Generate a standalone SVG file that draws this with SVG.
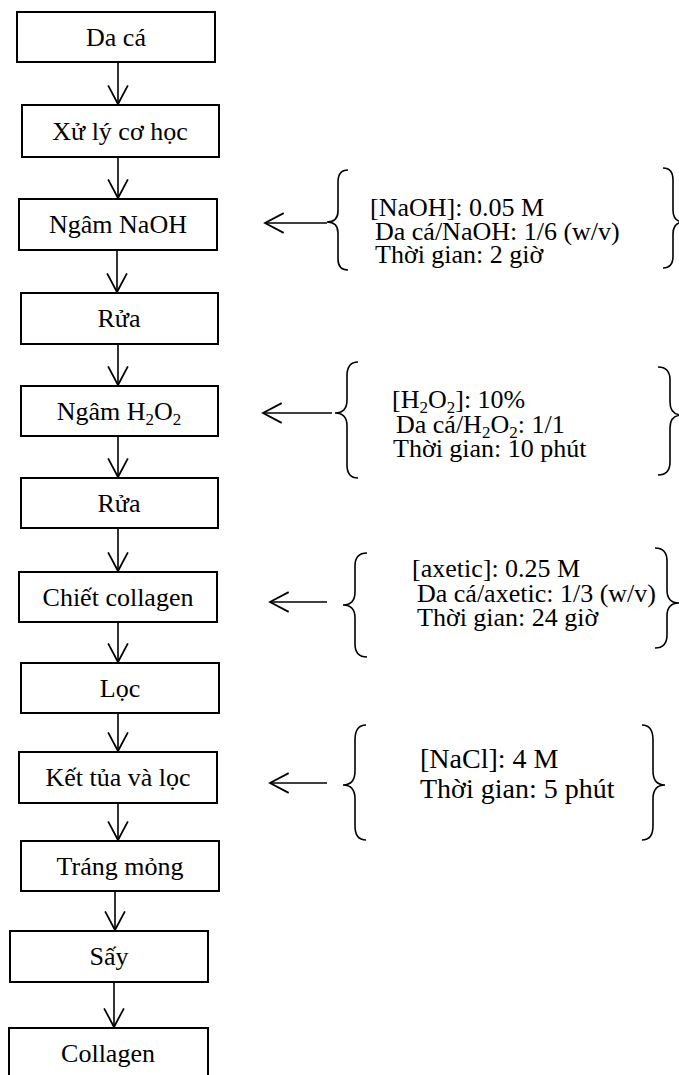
<svg xmlns="http://www.w3.org/2000/svg" width="679" height="1075" viewBox="0 0 679 1075">
<style>
.box{fill:#fff;stroke:#000;stroke-width:2}
.bt{font-family:"Liberation Serif","Times New Roman",serif;font-size:26px;text-anchor:middle;fill:#000}
.pt{font-family:"Liberation Serif","Times New Roman",serif;font-size:26px;fill:#000}
.pt2{font-family:"Liberation Serif","Times New Roman",serif;font-size:28px;fill:#000}
.ar{stroke:#000;stroke-width:1.6;fill:none}
.br{stroke:#000;stroke-width:1.6;fill:none}
</style>
<defs>
<marker id="v" markerUnits="userSpaceOnUse" markerWidth="22" markerHeight="22" viewBox="0 0 20 20" refX="18" refY="10" orient="auto">
<path d="M1,1 L18,10 L1,19" fill="none" stroke="#000" stroke-width="1.6"/>
</marker>
</defs>
<g id="connectors">
<line class="ar" x1="118" y1="62" x2="118" y2="104" marker-end="url(#v)"/>
<line class="ar" x1="118" y1="157" x2="118" y2="198" marker-end="url(#v)"/>
<line class="ar" x1="117" y1="250" x2="117" y2="292" marker-end="url(#v)"/>
<line class="ar" x1="118" y1="344" x2="118" y2="385" marker-end="url(#v)"/>
<line class="ar" x1="118" y1="436" x2="118" y2="477" marker-end="url(#v)"/>
<line class="ar" x1="118" y1="528" x2="118" y2="571" marker-end="url(#v)"/>
<line class="ar" x1="118" y1="622" x2="118" y2="662" marker-end="url(#v)"/>
<line class="ar" x1="118" y1="713" x2="118" y2="751" marker-end="url(#v)"/>
<line class="ar" x1="118" y1="803" x2="118" y2="840" marker-end="url(#v)"/>
<line class="ar" x1="115" y1="891" x2="115" y2="930" marker-end="url(#v)"/>
<line class="ar" x1="114" y1="982" x2="114" y2="1027" marker-end="url(#v)"/>
<line class="ar" x1="327" y1="223" x2="265" y2="223" marker-end="url(#v)"/>
<line class="ar" x1="332" y1="413" x2="263" y2="413" marker-end="url(#v)"/>
<line class="ar" x1="327" y1="602" x2="270" y2="602" marker-end="url(#v)"/>
<line class="ar" x1="327" y1="783" x2="270" y2="783" marker-end="url(#v)"/>
</g>
<g id="n1"><rect class="box" x="17" y="12" width="198" height="50"/><text class="bt" x="116" y="46">Da cá</text></g>
<g id="n2"><rect class="box" x="22" y="105" width="197" height="52"/><text class="bt" x="120" y="140">Xử lý cơ học</text></g>
<g id="n3"><rect class="box" x="19" y="199" width="198" height="51"/><text class="bt" x="118" y="233">Ngâm NaOH</text></g>
<g id="n4"><rect class="box" x="21" y="293" width="197" height="51"/><text class="bt" x="119" y="327">Rửa</text></g>
<g id="n5"><rect class="box" x="21" y="386" width="197" height="50"/><text class="bt" x="119" y="420">Ngâm H<tspan font-size="17" dy="5">2</tspan><tspan dy="-5">O</tspan><tspan font-size="17" dy="5">2</tspan></text></g>
<g id="n6"><rect class="box" x="21" y="478" width="197" height="50"/><text class="bt" x="119" y="512">Rửa</text></g>
<g id="n7"><rect class="box" x="19" y="572" width="198" height="50"/><text class="bt" x="118" y="606">Chiết collagen</text></g>
<g id="n8"><rect class="box" x="21" y="663" width="198" height="50"/><text class="bt" x="120" y="697">Lọc</text></g>
<g id="n9"><rect class="box" x="19" y="752" width="198" height="51"/><text class="bt" x="118" y="786">Kết tủa và lọc</text></g>
<g id="n10"><rect class="box" x="21" y="841" width="198" height="50"/><text class="bt" x="120" y="875">Tráng mỏng</text></g>
<g id="n11"><rect class="box" x="10" y="931" width="198" height="51"/><text class="bt" x="109" y="965">Sấy</text></g>
<g id="n12"><rect class="box" x="9" y="1028" width="199" height="60"/><text class="bt" x="108" y="1062">Collagen</text></g>
<g id="p1">
<path class="br" d="M348,170 Q338,170 338,182 L338,211 Q338,222 327,222 Q338,222 338,233 L338,259 Q338,270 348,270"/>
<path class="br" d="M663,168 Q673,168 673,180 L673,210 Q673,222 684,222 Q673,222 673,234 L673,256 Q673,268 663,268"/>
<text class="pt" x="370" y="216">[NaOH]: 0.05 M</text>
<text class="pt" x="375" y="240">Da cá/NaOH: 1/6 (w/v)</text>
<text class="pt" x="375" y="263">Thời gian: 2 giờ</text>
</g>
<g id="p2">
<path class="br" d="M358,362 Q347,362 347,376 L347,400 Q347,413 335,413 Q347,413 347,426 L347,465 Q347,478 358,478"/>
<path class="br" d="M658,367 Q670,367 670,380 L670,402 Q670,415 682,415 Q670,415 670,428 L670,462 Q670,475 658,475"/>
<text class="pt" x="392" y="408">[H<tspan font-size="17" dy="5">2</tspan><tspan dy="-5">O</tspan><tspan font-size="17" dy="5">2</tspan><tspan dy="-5">]: 10%</tspan></text>
<text class="pt" x="396" y="433">Da cá/H<tspan font-size="17" dy="5">2</tspan><tspan dy="-5">O</tspan><tspan font-size="17" dy="5">2</tspan><tspan dy="-5">: 1/1</tspan></text>
<text class="pt" x="393" y="457">Thời gian: 10 phút</text>
</g>
<g id="p3">
<path class="br" d="M367,553 Q355,553 355,566 L355,592 Q355,605 343,605 Q355,605 355,618 L355,644 Q355,657 367,657"/>
<path class="br" d="M655,548 Q667,548 667,561 L667,590 Q667,603 679,603 Q667,603 667,616 L667,635 Q667,648 655,648"/>
<text class="pt" x="412" y="577">[axetic]: 0.25 M</text>
<text class="pt" x="417" y="602">Da cá/axetic: 1/3 (w/v)</text>
<text class="pt" x="417" y="626">Thời gian: 24 giờ</text>
</g>
<g id="p4">
<path class="br" d="M366,725 Q355,725 355,740 L355,771 Q355,785 343,785 Q355,785 355,799 L355,826 Q355,840 366,840"/>
<path class="br" d="M642,725 Q653,725 653,740 L653,771 Q653,785 665,785 Q653,785 653,799 L653,826 Q653,840 642,840"/>
<text class="pt2" x="420" y="768">[NaCl]: 4 M</text>
<text class="pt2" x="420" y="798">Thời gian: 5 phút</text>
</g>
</svg>
